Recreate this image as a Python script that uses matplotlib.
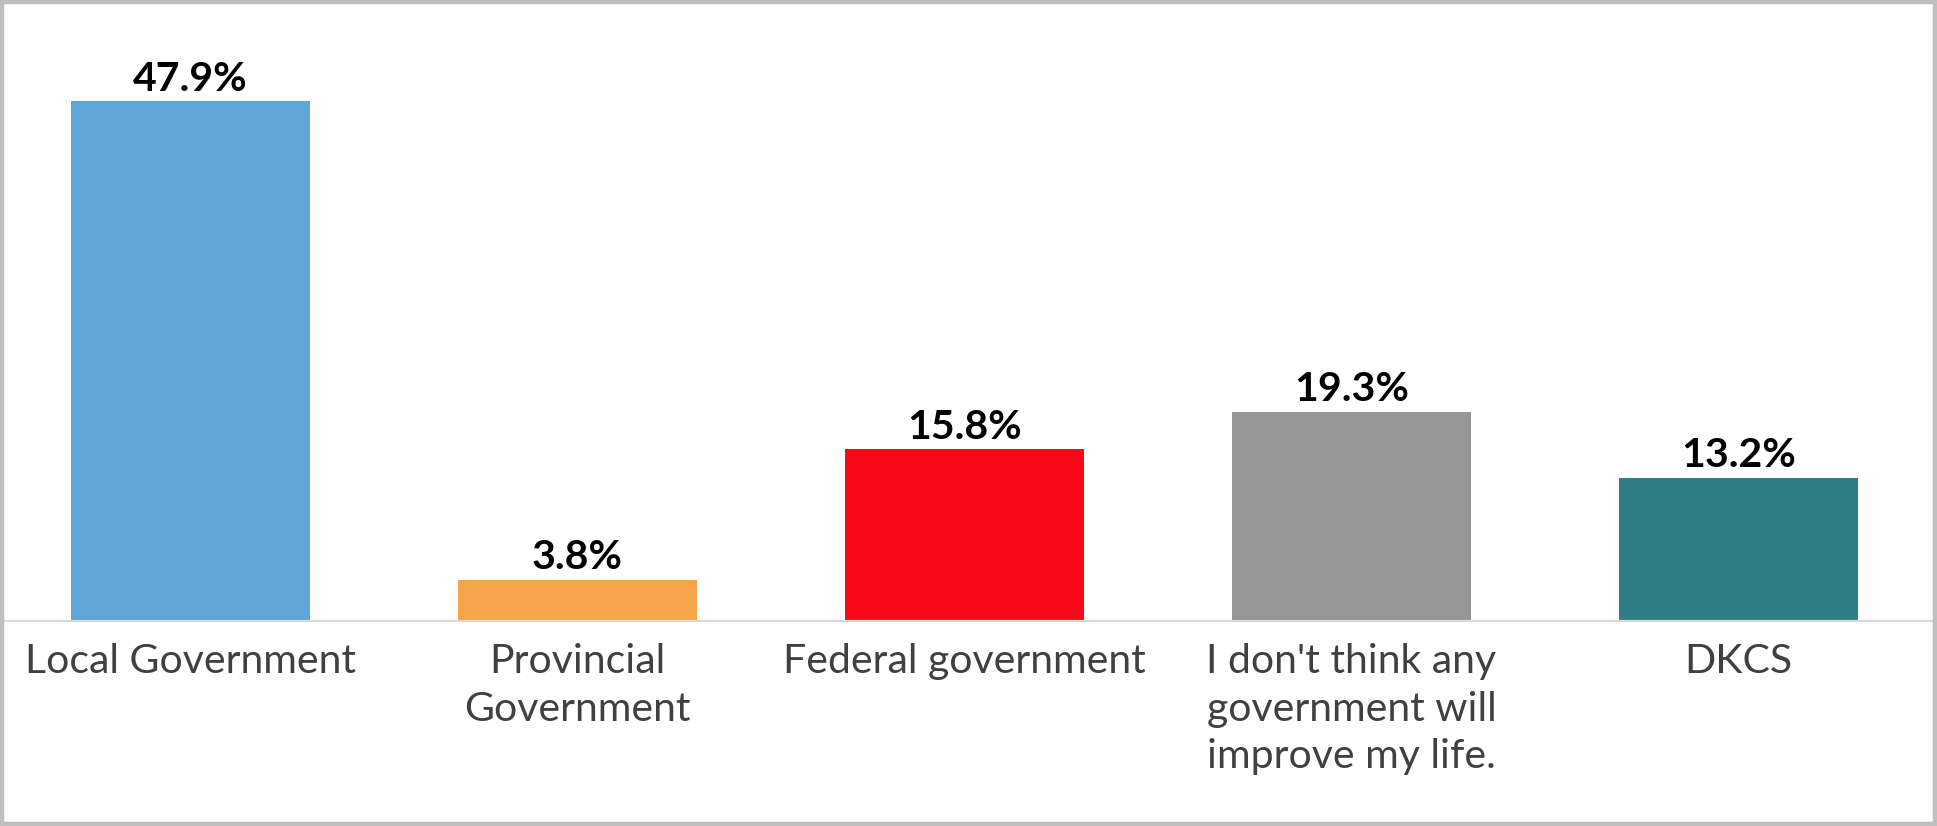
import matplotlib
matplotlib.use("Agg")
import matplotlib.pyplot as plt
from matplotlib.patches import Rectangle

categories = [
    "Local Government",
    "Provincial\nGovernment",
    "Federal government",
    "I don't think any\ngovernment will\nimprove my life.",
    "DKCS",
]
values = [47.9, 3.8, 15.8, 19.3, 13.2]
colors = ["#5FA5D9", "#F7A54A", "#F70816", "#969696", "#2E7D87"]

W, H = 1937, 826
fig = plt.figure(figsize=(W / 100, H / 100), dpi=100)
fig.patch.set_facecolor("white")

# plot area: baseline at 621 px from top, ~10.86 px per percent point
ax = fig.add_axes([-3 / W, 205 / H, 1935 / W, 597 / H])
ax.set_xlim(-0.5, 4.5)
ax.set_ylim(0, 55)
ax.patch.set_alpha(0)

x = list(range(len(categories)))
ax.bar(x, values, width=0.615, color=colors, zorder=2)

for s in ("top", "left", "right"):
    ax.spines[s].set_visible(False)
ax.spines["bottom"].set_color("#D9D9D9")
ax.spines["bottom"].set_linewidth(1.6)
ax.spines["bottom"].set_zorder(3)
ax.set_xticks([])
ax.set_yticks([])

for xi, v in zip(x, values):
    ax.annotate(f"{v:.1f}%", (xi, v), xytext=(0, 7.5), textcoords="offset points",
                ha="center", va="baseline", fontsize=29.5, fontweight="bold",
                family="Lato", color="black")

for xi, lab in zip(x, categories):
    ax.annotate(lab, (xi, 0), xycoords=("data", "axes fraction"),
                xytext=(0, -16), textcoords="offset points",
                ha="center", va="top", fontsize=29.5, family="Lato",
                color="#404040", linespacing=1.35)

# outer grey frame
fig.patches.append(Rectangle((2 / W, 2 / H), 1 - 4.5 / W, 1 - 4 / H,
                             transform=fig.transFigure, fill=False,
                             edgecolor="#BFBFBF", linewidth=3.2))

fig.savefig("out.png", dpi=100, facecolor="white")
